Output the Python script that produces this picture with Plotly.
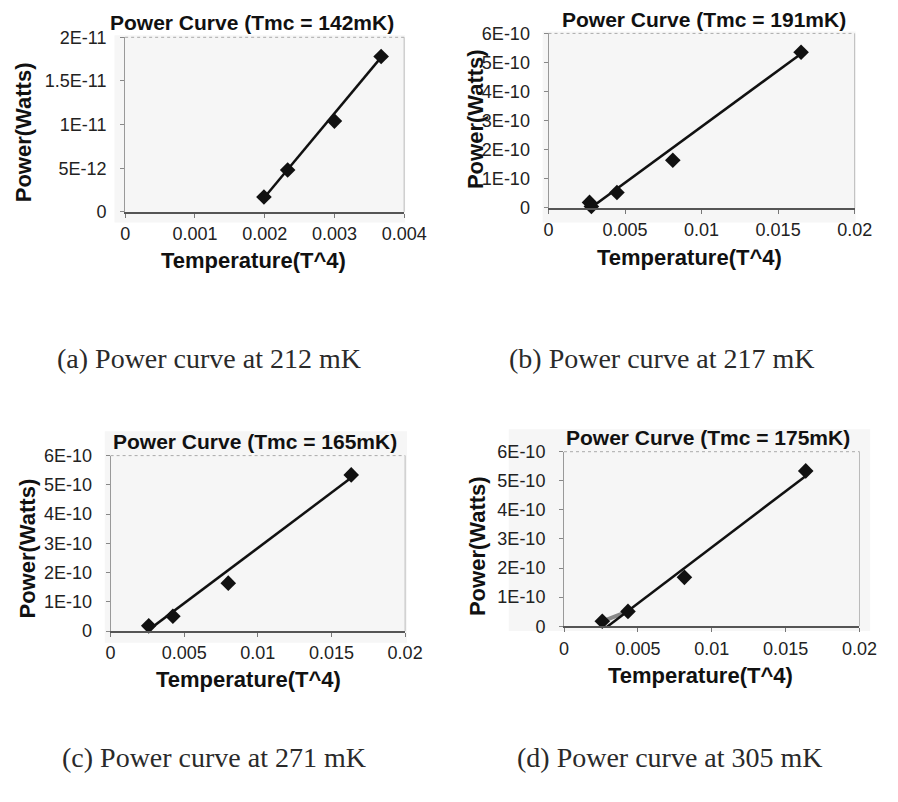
import plotly.graph_objects as go

W, H = 898, 802

# ---------------- data ----------------
a_x = [0.00199, 0.00233, 0.00300, 0.00367]
a_y = [1.7e-12, 4.8e-12, 1.04e-11, 1.78e-11]
a_fit_x = [0.00196, 0.00369]
a_fit_y = [1.3e-12, 1.79e-11]

b_x = [0.00268, 0.00280, 0.00447, 0.00812, 0.01650]
b_y = [1.9e-11, 5.0e-12, 5.3e-11, 1.64e-10, 5.35e-10]
b_fit_x = [0.00268, 0.01639]
b_fit_y = [-3.0e-12, 5.26e-10]

c_x = [0.00259, 0.00423, 0.00799, 0.01634]
c_y = [1.8e-11, 5.1e-11, 1.64e-10, 5.34e-10]
c_fit_x = [0.00248, 0.01618]
c_fit_y = [0.0, 5.18e-10]

d_x = [0.00259, 0.00433, 0.00815, 0.01636]
d_y = [1.7e-11, 5.1e-11, 1.68e-10, 5.34e-10]
d_fit_x = [0.00281, 0.01632]
d_fit_y = [-6.0e-12, 5.15e-10]
d_grey_x = d_x[:2]
d_grey_y = d_y[:2]

a_xtick_vals = [0, 0.001, 0.002, 0.003, 0.004]
a_xtick_text = ["0", "0.001", "0.002", "0.003", "0.004"]
a_ytick_vals = [0, 5e-12, 1e-11, 1.5e-11, 2e-11]
a_ytick_text = ["0", "5E-12", "1E-11", "1.5E-11", "2E-11"]
bcd_xtick_vals = [0, 0.005, 0.01, 0.015, 0.02]
bcd_xtick_text = ["0", "0.005", "0.01", "0.015", "0.02"]
bcd_ytick_vals = [0, 1e-10, 2e-10, 3e-10, 4e-10, 5e-10, 6e-10]
bcd_ytick_text = ["0", "1E-10", "2E-10", "3E-10", "4E-10", "5E-10", "6E-10"]

titles = ["Power Curve (Tmc = 142mK)", "Power Curve (Tmc = 191mK)",
          "Power Curve (Tmc = 165mK)", "Power Curve (Tmc = 175mK)"]
captions = ["(a) Power curve at 212 mK", "(b) Power curve at 217 mK",
            "(c) Power curve at 271 mK", "(d) Power curve at 305 mK"]
x_title = "Temperature(T^4)"
y_title = "Power(Watts)"

# ---------------- layout geometry (pixels) ----------------
def fx(p):
    return p / W

def fy(p):
    return 1 - p / H

panels = [
    dict(box=(124, 412, 28, 207), xr=[0, 0.004], yr=[0, 2e-11],
         xt=(a_xtick_vals, a_xtick_text), yt=(a_ytick_vals, a_ytick_text),
         title=(255, 13), xtitle=(257, 257), ytitle=(20, 125), cap=(211, 357),
         area=(113, 413, 26, 218)),
    dict(box=(561, 877, 24, 203), xr=[0, 0.02], yr=[0, 6e-10],
         xt=(bcd_xtick_vals, bcd_xtick_text), yt=(bcd_ytick_vals, bcd_ytick_text),
         title=(721, 10), xtitle=(707, 254), ytitle=(485, 112), cap=(678, 357),
         area=(555, 878, 22, 218)),
    dict(box=(109, 413, 457, 637), xr=[0, 0.02], yr=[0, 6e-10],
         xt=(bcd_xtick_vals, bcd_xtick_text), yt=(bcd_ytick_vals, bcd_ytick_text),
         title=(258, 443), xtitle=(251, 687), ytitle=(23, 552), cap=(216, 767),
         area=(103, 415, 432, 649)),
    dict(box=(577, 882, 453, 632), xr=[0, 0.02], yr=[0, 6e-10],
         xt=(bcd_xtick_vals, bcd_xtick_text), yt=(bcd_ytick_vals, bcd_ytick_text),
         title=(726, 438), xtitle=(718, 683), ytitle=(488, 550), cap=(686, 767),
         area=(520, 893, 430, 637)),
]

series = [(a_x, a_y, a_fit_x, a_fit_y), (b_x, b_y, b_fit_x, b_fit_y),
          (c_x, c_y, c_fit_x, c_fit_y), (d_x, d_y, d_fit_x, d_fit_y)]

fig = go.Figure()
layout = dict(width=W, height=H, margin=dict(l=0, r=0, t=0, b=0),
              paper_bgcolor="white", plot_bgcolor="#f8f8f8", showlegend=False,
              font=dict(family="Liberation Sans, Arial", color="#222"))
annotations = []
shapes = []

TICK_FONT = dict(family="Liberation Sans, Arial", size=18, color="#222")

for i, (p, s) in enumerate(zip(panels, series)):
    n = "" if i == 0 else str(i + 1)
    xa, ya = "x" + n, "y" + n
    l, r, t, b = p["box"]
    layout["xaxis" + n] = dict(
        domain=[fx(l), fx(r)], range=p["xr"], anchor=ya,
        tickvals=p["xt"][0], ticktext=p["xt"][1], tickfont=TICK_FONT,
        showgrid=False, zeroline=False, showline=True, linecolor="#555",
        linewidth=1.5, mirror=False, ticks="outside", ticklen=4,
        tickcolor="#777", ticklabelstandoff=1)
    layout["yaxis" + n] = dict(
        domain=[fy(b), fy(t)], range=p["yr"], anchor=xa,
        tickvals=p["yt"][0], ticktext=p["yt"][1], tickfont=TICK_FONT,
        showgrid=False, zeroline=False, showline=True, linecolor="#999",
        linewidth=1, mirror=False, ticks="outside", ticklen=4,
        tickcolor="#888", ticklabelstandoff=10)
    # chart-area faint background
    al, ar, at, ab = p["area"]
    shapes.append(dict(type="rect", xref="paper", yref="paper",
                       x0=fx(al), x1=fx(ar), y0=fy(ab), y1=fy(at),
                       fillcolor="#f6f6f6", line=dict(width=0), layer="below"))
    # top & right frame of plot area
    shapes.append(dict(type="line", xref="paper", yref="paper",
                       x0=fx(l), x1=fx(r), y0=fy(t), y1=fy(t),
                       line=dict(color="#aaa", width=1, dash="dot")))
    shapes.append(dict(type="line", xref="paper", yref="paper",
                       x0=fx(r), x1=fx(r), y0=fy(b), y1=fy(t),
                       line=dict(color="#bbb", width=1)))

    x, y, fxv, fyv = s
    if i == 3:
        fig.add_trace(go.Scatter(x=d_grey_x, y=d_grey_y, mode="lines",
                                 line=dict(color="#888", width=4),
                                 xaxis=xa, yaxis=ya, cliponaxis=False))
    fig.add_trace(go.Scatter(x=fxv, y=fyv, mode="lines",
                             line=dict(color="#111", width=2.5),
                             xaxis=xa, yaxis=ya, cliponaxis=False))
    fig.add_trace(go.Scatter(x=x, y=y, mode="markers",
                             marker=dict(symbol="diamond", size=12, color="#111"),
                             xaxis=xa, yaxis=ya, cliponaxis=False))

    tx, ty = p["title"]
    annotations.append(dict(text="<b>%s</b>" % titles[i], xref="paper", yref="paper",
                            x=fx(tx), y=fy(ty), xanchor="center", yanchor="middle",
                            showarrow=False,
                            font=dict(family="Liberation Sans, Arial", size=21, color="#111")))
    xx, xy = p["xtitle"]
    annotations.append(dict(text="<b>%s</b>" % x_title, xref="paper", yref="paper",
                            x=fx(xx), y=fy(xy), xanchor="center", yanchor="middle",
                            showarrow=False,
                            font=dict(family="Liberation Sans, Arial", size=22, color="#111")))
    yx, yy = p["ytitle"]
    annotations.append(dict(text="<b>%s</b>" % y_title, xref="paper", yref="paper",
                            x=fx(yx), y=fy(yy), xanchor="center", yanchor="middle",
                            textangle=-90, showarrow=False,
                            font=dict(family="Liberation Sans, Arial", size=22, color="#111")))
    cx, cy = p["cap"]
    annotations.append(dict(text=captions[i], xref="paper", yref="paper",
                            x=fx(cx), y=fy(cy), xanchor="center", yanchor="middle",
                            showarrow=False,
                            font=dict(family="Liberation Serif, Times New Roman", size=28,
                                      color="#2a2a2a")))

layout["annotations"] = annotations
layout["shapes"] = shapes
fig.update_layout(**layout)
fig.write_html("out.html")
